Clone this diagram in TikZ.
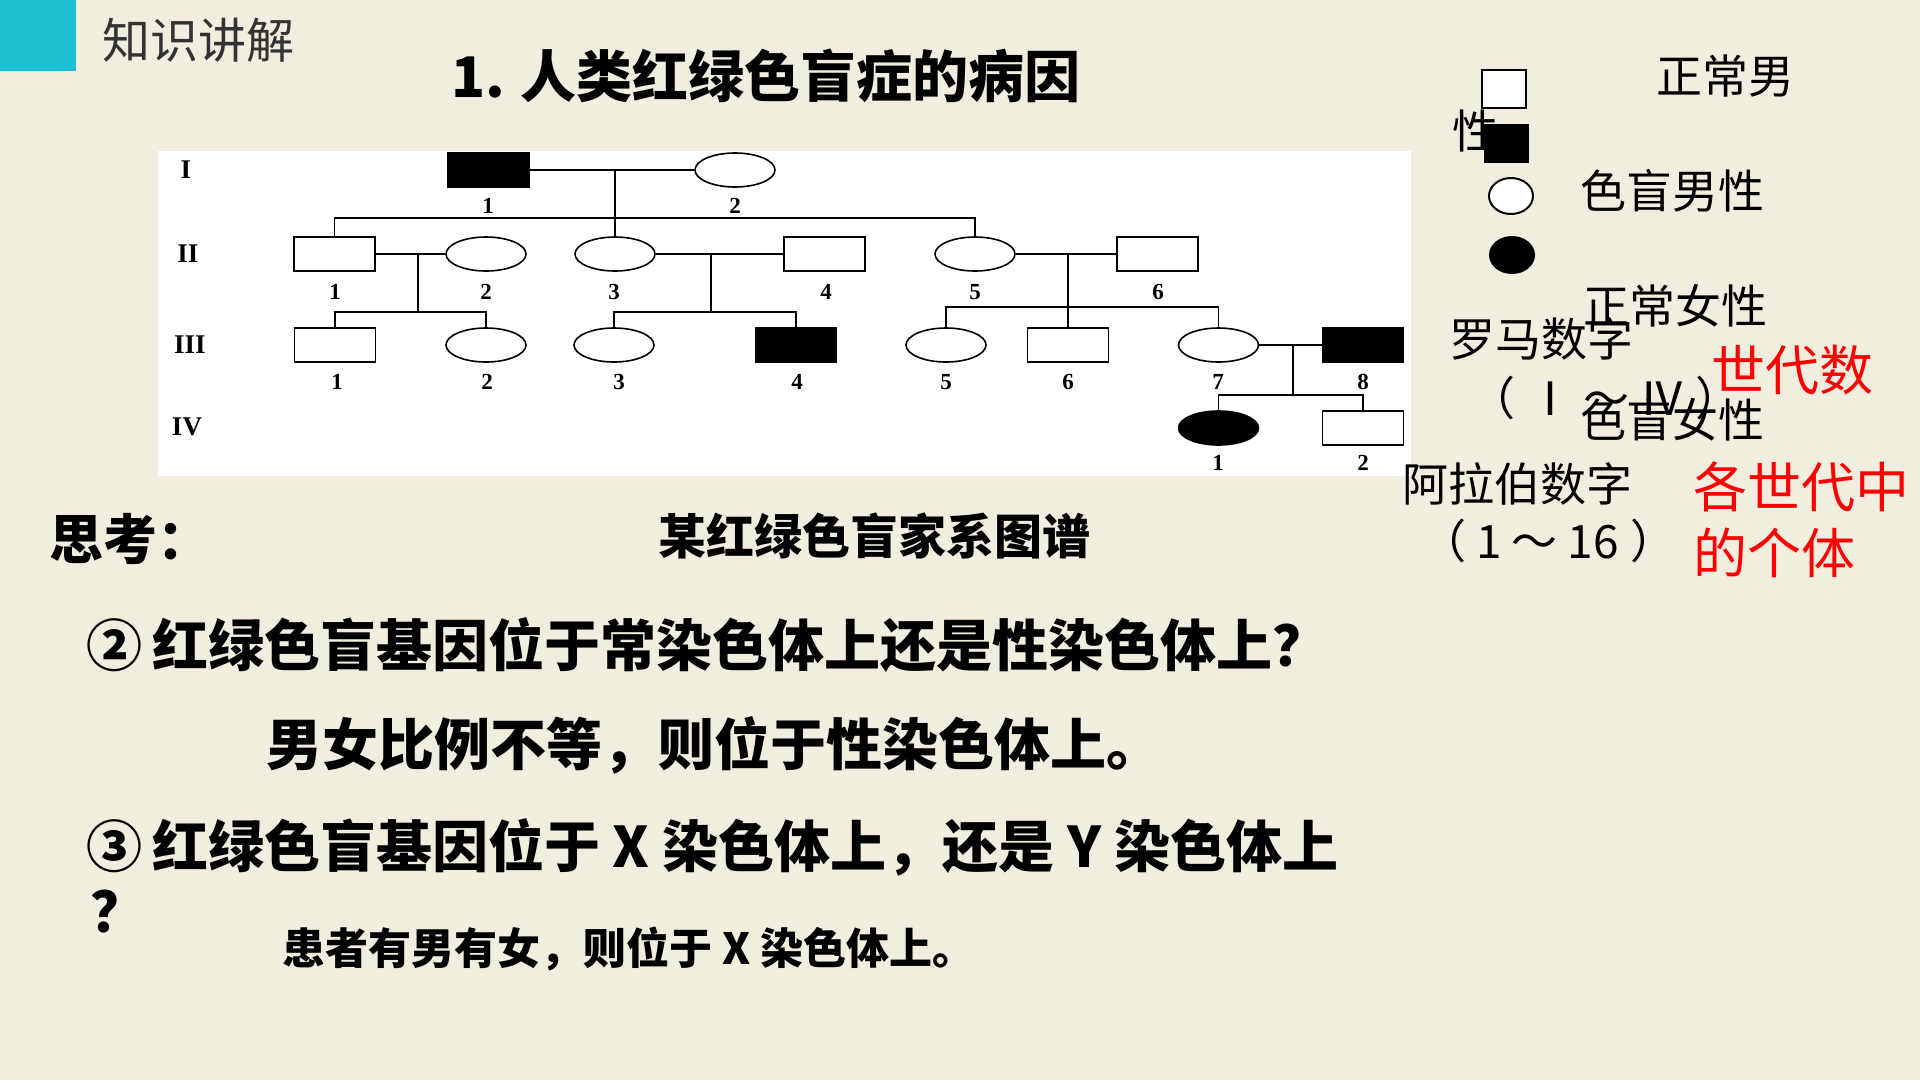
\documentclass[tikz,border=0pt]{standalone}
\usepackage{fontspec}
\setmainfont{Liberation Serif}
\newfontfamily\cjk{Noto Sans CJK SC}
\usetikzlibrary{shapes.geometric}
\definecolor{bgcol}{HTML}{F2EEDF}
\definecolor{teal}{HTML}{1DBFD3}
\definecolor{redtxt}{HTML}{FF0000}
\begin{document}
\begin{tikzpicture}[x=1pt,y=-1pt,
  male/.style={draw,line width=1.6pt,minimum width=81pt,minimum height=34pt,inner sep=0pt,fill=white},
  female/.style={ellipse,draw,line width=1.6pt,minimum width=80pt,minimum height=34pt,inner sep=0pt,fill=white},
  aff/.style={fill=black},
  link/.style={line width=1.5pt},
  num/.style={font=\fontsize{23}{25}\selectfont\bfseries,inner sep=0pt},
  gen/.style={font=\fontsize{27}{29}\selectfont\bfseries,inner sep=0pt},
  txt/.style={inner sep=0pt,anchor=west},
  leg/.style={txt,font=\cjk\fontsize{46}{50}\selectfont},
  red/.style={txt,text=redtxt,font=\cjk\fontsize{54}{58}\selectfont},
  q/.style={txt,font=\cjk\bfseries\fontsize{56}{60}\selectfont},
]
\fill[bgcol] (0,0) rectangle (1920,1080);
\useasboundingbox (0,0) rectangle (1920,1080);
% header
\fill[teal] (0,0) rectangle (76,71);
\node[txt,text=black!80,font=\cjk\fontsize{48}{52}\selectfont] (hd) at (102,40) {知识讲解};
\node[txt,font=\cjk\bfseries\fontsize{56}{60}\selectfont] (title) at (451,76) {1.\hspace{16pt}人类红绿色盲症的病因};
% pedigree panel
\fill[white] (158,151) rectangle (1411,476);
\node[gen] (gI) at (186,170) {I};
\node[gen] (gII) at (188,254) {II};
\node[gen] (gIII) at (190,345) {III};
\node[gen] (gIV) at (187,427) {IV};
% generation I
\node[male,aff] (I1) at (488.5,170) {};
\node[female] (I2) at (735,170) {};
% generation II
\node[male] (II1) at (334.5,254) {};
\node[female] (II2) at (486,254) {};
\node[female] (II3) at (615,254) {};
\node[male] (II4) at (824.5,254) {};
\node[female] (II5) at (975,254) {};
\node[male] (II6) at (1157.5,254) {};
% generation III
\node[male] (III1) at (335,345) {};
\node[female] (III2) at (486,345) {};
\node[female] (III3) at (614,345) {};
\node[male,aff] (III4) at (796,345) {};
\node[female] (III5) at (946,345) {};
\node[male] (III6) at (1068,345) {};
\node[female] (III7) at (1218.5,345) {};
\node[male,aff] (III8) at (1363,345) {};
% generation IV
\node[female,aff] (IV1) at (1218.5,428) {};
\node[male] (IV2) at (1363,428) {};
% numbers
\node[num] (nI1) at (488,206) {1};
\node[num] (nI2) at (735,206) {2};
\node[num] (nII1) at (335,292) {1};
\node[num] (nII2) at (486,292) {2};
\node[num] (nII3) at (614,292) {3};
\node[num] (nII4) at (826,292) {4};
\node[num] (nII5) at (975,292) {5};
\node[num] (nII6) at (1158,292) {6};
\node[num] (nIII1) at (337,382) {1};
\node[num] (nIII2) at (487,382) {2};
\node[num] (nIII3) at (619,382) {3};
\node[num] (nIII4) at (797,382) {4};
\node[num] (nIII5) at (946,382) {5};
\node[num] (nIII6) at (1068,382) {6};
\node[num] (nIII7) at (1218,382) {7};
\node[num] (nIII8) at (1363,382) {8};
\node[num] (nIV1) at (1218,463) {1};
\node[num] (nIV2) at (1363,463) {2};
% connectors
\coordinate (m1) at (615,170);
\coordinate (s1) at (0,218);
\draw[link] (I1.east) -- (I2.west);
\draw[link] (m1) -- (II3.north);
\draw[link] (II1.north) -- (II1.north |- s1) -- (II5.north |- s1) -- (II5.north);
\coordinate (m2) at (418,254);
\coordinate (s2) at (0,312);
\draw[link] (II1.east) -- (II2.west);
\draw[link] (m2) -- (m2 |- s2);
\draw[link] (III1.north) -- (III1.north |- s2) -- (III2.north |- s2) -- (III2.north);
\coordinate (m3) at (711,254);
\draw[link] (II3.east) -- (II4.west);
\draw[link] (m3) -- (m3 |- s2);
\draw[link] (III3.north) -- (III3.north |- s2) -- (III4.north |- s2) -- (III4.north);
\coordinate (m4) at (1068,254);
\coordinate (s4) at (0,307);
\draw[link] (II5.east) -- (II6.west);
\draw[link] (m4) -- (III6.north);
\draw[link] (III5.north) -- (III5.north |- s4) -- (III7.north |- s4) -- (III7.north);
\coordinate (m5) at (1293,345);
\coordinate (s5) at (0,395);
\draw[link] (III7.east) -- (III8.west);
\draw[link] (m5) -- (m5 |- s5);
\draw[link] (IV1.north) -- (IV1.north |- s5) -- (IV2.north |- s5) -- (IV2.north);
% legend
\node[leg] (lz) at (1656,76) {正常男};
\node[leg] (lx) at (1452,131) {性};
\node[draw,line width=2pt,fill=white,minimum width=44pt,minimum height=38pt,inner sep=0pt] (lsq1) at (1504,89) {};
\node[fill=black,minimum width=45pt,minimum height=39pt,inner sep=0pt] (lsq2) at (1506.5,143.5) {};
\node[ellipse,draw,line width=2pt,fill=white,minimum width=44pt,minimum height=36pt,inner sep=0pt] (lc1) at (1511,196) {};
\node[ellipse,fill=black,minimum width=46pt,minimum height=38pt,inner sep=0pt] (lc2) at (1512,255) {};
\node[leg] (lcm) at (1580,191) {色盲男性};
\node[leg] (lzn) at (1583,306) {正常女性};
\node[leg] (lrm) at (1449,339) {罗马数字};
\node[leg] (lrr) at (1469,398) {（\hspace{12pt}Ⅰ\hspace{10pt}～\hspace{10pt}Ⅳ\hspace{10pt}）};
\node[leg] (lcn) at (1580,420) {色盲女性};
\node[leg] (lal) at (1402,484) {阿拉伯数字};
\node[leg] (lar) at (1420,541) {（\hspace{10pt}1\hspace{10pt}～\hspace{10pt}16\hspace{12pt}）};
\node[red] (r1) at (1711,370) {世代数};
\node[red] (r2) at (1693,487) {各世代中};
\node[red] (r3) at (1693,553) {的个体};
% questions
\node[txt,font=\cjk\bfseries\fontsize{54}{58}\selectfont] (think) at (49,539) {思考：};
\node[txt,font=\cjk\bfseries\fontsize{48}{52}\selectfont] (cap) at (658,536) {某红绿色盲家系图谱};
\node[q] (q2) at (86,645) {②\hspace{10pt}红绿色盲基因位于常染色体上还是性染色体上？};
\node[q] (a2) at (266,745) {男女比例不等，则位于性染色体上。};
\node[q] (q3) at (86,847) {③\hspace{10pt}红绿色盲基因位于 X 染色体上，还是 Y 染色体上};
\node[q] (q3b) at (90,912) {？};
\node[txt,font=\cjk\bfseries\fontsize{43}{47}\selectfont] (a3) at (282,949) {患者有男有女，则位于 X 染色体上。};
\end{tikzpicture}
\end{document}
